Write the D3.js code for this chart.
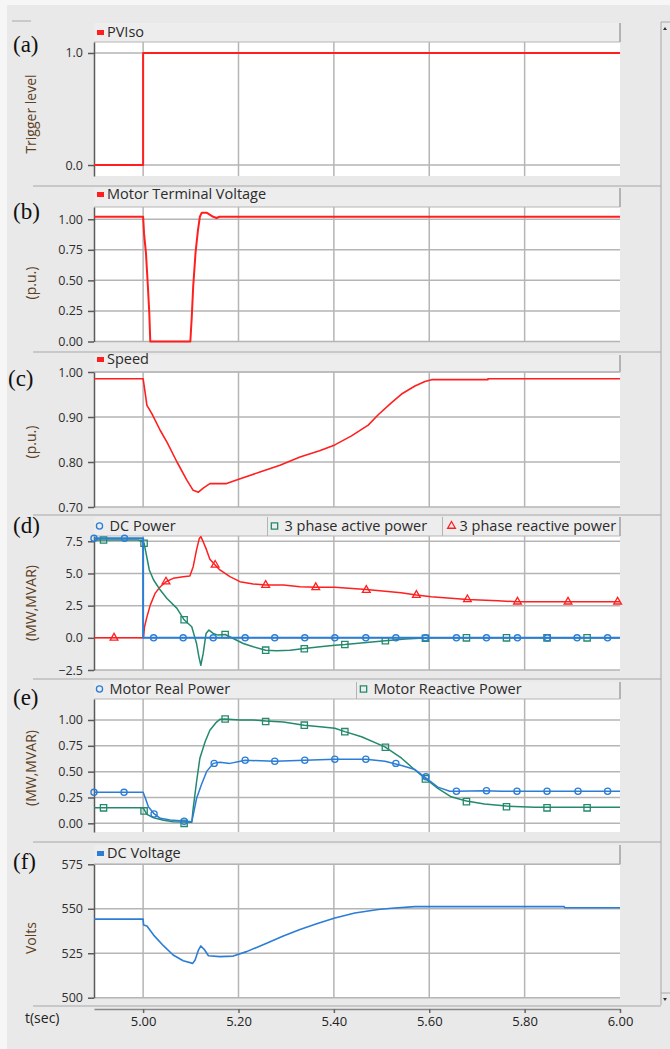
<!DOCTYPE html>
<html>
<head>
<meta charset="utf-8">
<script src="https://cdn.jsdelivr.net/npm/d3@7"></script>
<style>
    * { margin: 0; padding: 0; }
    body { background: #e9e9e9; width: 670px; height: 1049px; overflow: hidden; }
    svg { display: block; }
    text { font-family: "Open Sans", "Noto Sans", sans-serif; }
</style>
</head>
<body>
<svg id="chart" width="670" height="1049"></svg>
<script>
// ---- data (time in s) ----
var xTicks = [5.0, 5.2, 5.4, 5.6, 5.8, 6.0];

var pvIso = [[4.897, 0], [5.0, 0], [5.0, 1], [6.0, 1]];

var termVolt = [[4.897, 1.02], [5.0, 1.02], [5.002, 0.88], [5.006, 0.72], [5.010, 0.45], [5.013, 0.23],
    [5.015, 0.0], [5.099, 0.0], [5.102, 0.20], [5.105, 0.45], [5.110, 0.73], [5.115, 0.91], [5.119, 1.02],
    [5.123, 1.054], [5.133, 1.054], [5.147, 1.02], [5.154, 1.01], [5.16, 1.02], [6.0, 1.02]];

var speed = [[4.897, 0.985], [5.0, 0.985], [5.003, 0.963], [5.008, 0.926], [5.018, 0.908], [5.036, 0.870],
    [5.05, 0.844], [5.071, 0.80], [5.092, 0.759], [5.105, 0.737], [5.116, 0.733], [5.126, 0.742], [5.14, 0.752],
    [5.175, 0.752], [5.199, 0.761], [5.245, 0.778], [5.287, 0.793], [5.329, 0.811], [5.37, 0.825],
    [5.402, 0.838], [5.437, 0.858], [5.472, 0.882], [5.493, 0.905], [5.521, 0.932], [5.542, 0.951],
    [5.570, 0.969], [5.591, 0.979], [5.605, 0.983], [5.723, 0.983], [5.723, 0.985], [6.0, 0.985]];

var dcPower = [[4.897, 7.73], [5.0, 7.73], [5.0, 0], [6.0, 0]];
var dcPowerMarks = [[4.897, 7.73], [4.961, 7.73], [5.022, 0], [5.084, 0], [5.147, 0], [5.214, 0], [5.276, 0],
    [5.339, 0], [5.402, 0], [5.467, 0], [5.530, 0], [5.592, 0], [5.657, 0], [5.720, 0], [5.785, 0],
    [5.848, 0], [5.910, 0], [5.974, 0]];

var activePower = [[4.897, 7.6], [4.99, 7.6], [5.0, 7.45], [5.002, 7.35], [5.005, 6.8], [5.013, 5.27],
    [5.022, 4.49], [5.036, 3.71], [5.05, 3.06], [5.071, 2.29], [5.086, 1.4], [5.102, 0.86], [5.112, -0.44],
    [5.117, -1.48], [5.121, -2.13], [5.126, -1.21], [5.132, 0.34], [5.138, 0.6], [5.147, 0.34], [5.157, 0.21],
    [5.172, 0.26], [5.189, -0.05], [5.21, -0.44], [5.231, -0.70], [5.257, -0.96], [5.28, -1.01],
    [5.308, -0.96], [5.338, -0.83], [5.371, -0.70], [5.402, -0.57], [5.423, -0.52], [5.508, -0.23],
    [5.55, -0.1], [5.60, 0], [6.0, 0]];
var activePowerMarks = [[4.917, 7.6], [5.002, 7.35], [5.086, 1.4], [5.172, 0.26], [5.257, -0.96],
    [5.338, -0.85], [5.423, -0.52], [5.508, -0.23], [5.592, -0.03], [5.678, 0], [5.762, 0], [5.847, 0], [5.931, 0]];

var reactivePower = [[4.897, 0], [5.0, 0], [5.001, 0.08], [5.003, 0.86], [5.008, 1.63], [5.015, 2.54],
    [5.025, 3.45], [5.036, 3.97], [5.048, 4.36], [5.063, 4.62], [5.084, 4.75], [5.098, 4.80], [5.105, 5.53],
    [5.112, 6.83], [5.118, 7.74], [5.121, 7.86], [5.126, 7.47], [5.133, 6.83], [5.14, 6.10], [5.151, 5.66],
    [5.161, 5.27], [5.182, 4.75], [5.203, 4.36], [5.231, 4.18], [5.257, 4.10], [5.294, 4.10], [5.329, 3.97],
    [5.362, 3.92], [5.402, 3.92], [5.468, 3.76], [5.541, 3.50], [5.573, 3.32], [5.604, 3.19], [5.680, 2.98],
    [5.744, 2.88], [5.785, 2.80], [6.0, 2.80]];
var reactivePowerMarks = [[4.939, 0], [5.048, 4.36], [5.151, 5.66], [5.257, 4.10], [5.362, 3.92],
    [5.468, 3.71], [5.573, 3.32], [5.680, 2.98], [5.785, 2.80], [5.891, 2.80], [5.995, 2.80]];

var motorP = [[4.897, 0.30], [5.0, 0.30], [5.005, 0.24], [5.011, 0.16], [5.022, 0.097], [5.036, 0.048],
    [5.057, 0.032], [5.084, 0.022], [5.102, 0.016], [5.105, 0.08], [5.112, 0.24], [5.122, 0.37], [5.133, 0.50],
    [5.147, 0.58], [5.161, 0.59], [5.182, 0.58], [5.214, 0.61], [5.276, 0.60], [5.339, 0.61], [5.402, 0.62],
    [5.467, 0.62], [5.507, 0.60], [5.542, 0.56], [5.57, 0.52], [5.59, 0.45], [5.618, 0.35], [5.643, 0.31],
    [5.657, 0.31], [5.716, 0.315], [5.751, 0.31], [6.0, 0.31]];
var motorPMarks = [[4.897, 0.30], [4.960, 0.30], [5.023, 0.09], [5.086, 0.02], [5.149, 0.58], [5.214, 0.61],
    [5.276, 0.60], [5.339, 0.61], [5.402, 0.62], [5.467, 0.62], [5.530, 0.58], [5.593, 0.45], [5.657, 0.31],
    [5.720, 0.315], [5.784, 0.31], [5.847, 0.31], [5.912, 0.31], [5.974, 0.31]];

var motorQ = [[4.897, 0.151], [5.0, 0.15], [5.008, 0.087], [5.022, 0.054], [5.043, 0.029], [5.063, 0.016],
    [5.102, 0.01], [5.105, 0.145], [5.112, 0.40], [5.119, 0.63], [5.13, 0.79], [5.14, 0.90], [5.154, 0.98],
    [5.161, 1.006], [5.172, 1.01], [5.203, 1.00], [5.231, 1.00], [5.257, 0.99], [5.294, 0.98], [5.338, 0.95],
    [5.371, 0.935], [5.402, 0.92], [5.423, 0.887], [5.458, 0.838], [5.507, 0.74], [5.542, 0.63], [5.57, 0.516],
    [5.591, 0.436], [5.618, 0.339], [5.646, 0.257], [5.678, 0.216], [5.716, 0.187], [5.762, 0.167],
    [5.821, 0.155], [6.0, 0.155]];
var motorQMarks = [[4.917, 0.15], [5.002, 0.12], [5.086, 0.0], [5.172, 1.01], [5.257, 0.985], [5.338, 0.95],
    [5.423, 0.887], [5.508, 0.736], [5.592, 0.43], [5.678, 0.21], [5.762, 0.16], [5.847, 0.15], [5.931, 0.15]];

var dcVolt = [[4.897, 544.2], [5.0, 544.2], [5.001, 540.9], [5.008, 540.3], [5.022, 535.2], [5.043, 529.1],
    [5.063, 524.0], [5.084, 520.8], [5.104, 519.3], [5.109, 521.2], [5.116, 526.8], [5.121, 529.1],
    [5.128, 527.2], [5.137, 523.6], [5.161, 523.1], [5.189, 523.4], [5.217, 525.9], [5.259, 530.6],
    [5.294, 534.7], [5.329, 538.4], [5.364, 541.6], [5.402, 544.8], [5.444, 547.6], [5.493, 549.6],
    [5.521, 550.3], [5.570, 551.2], [5.883, 551.2], [5.884, 550.6], [6.0, 550.6]];

// ---- styling ----
var red = "#ff1f1f", blue = "#2b7dd6", green = "#24896d";
var gridColor = "#b5b5b5", axisColor = "#5a5a5a", titleColor = "#5e3f22", tickColor = "#2e2e2e";
var xLeft = 94, xRight = 620;

var panels = [
    { label: "(a)", labelX: 13, labelY: 52, sepY: null, legendTop: 23, legendY: 37, top: 42, bottom: 176,
      domain: [-0.098, 1.098], ticks: [0, 1], fmt: ".1f", title: "Trigger level", titleY: 114,
      legend: [{ name: "PVIso", sym: "bar", color: red, x0: 94, x1: 620 }],
      series: [{ data: pvIso, color: red, w: 2 }] },
    { label: "(b)", labelX: 13, labelY: 219, sepY: 186, legendTop: 188, legendY: 199, top: 207, bottom: 341.5,
      domain: [0, 1.1], ticks: [0, 0.25, 0.5, 0.75, 1], fmt: ".2f", title: "(p.u.)", titleY: 283,
      legend: [{ name: "Motor Terminal Voltage", sym: "bar", color: red, x0: 94, x1: 620 }],
      series: [{ data: termVolt, color: red, w: 2 }] },
    { label: "(c)", labelX: 8, labelY: 386, sepY: 352, legendTop: 355, legendY: 364, top: 372, bottom: 507,
      domain: [0.7, 1.0], ticks: [0.7, 0.8, 0.9, 1.0], fmt: ".2f", title: "(p.u.)", titleY: 442,
      legend: [{ name: "Speed", sym: "bar", color: red, x0: 94, x1: 620 }],
      series: [{ data: speed, color: red, w: 1.6 }] },
    { label: "(d)", labelX: 13, labelY: 533, sepY: 515, legendTop: 517, legendY: 531, top: 536, bottom: 670,
      domain: [-2.5, 7.91], ticks: [-2.5, 0, 2.5, 5, 7.5], fmt: ".1f", title: "(MW,MVAR)", titleY: 603,
      legend: [{ name: "DC Power", sym: "circle", color: blue, x0: 94, x1: 268 },
               { name: "3 phase active power", sym: "square", color: green, x0: 268, x1: 443 },
               { name: "3 phase reactive power", sym: "triangle", color: red, x0: 443, x1: 620 }],
      series: [{ data: reactivePower, marks: reactivePowerMarks, sym: "triangle", color: red, w: 1.5 },
               { data: activePower, marks: activePowerMarks, sym: "square", color: green, w: 1.5 },
               { data: dcPower, marks: dcPowerMarks, sym: "circle", color: blue, w: 2 }] },
    { label: "(e)", labelX: 13, labelY: 705, sepY: 679, legendTop: 682, legendY: 694, top: 699, bottom: 832,
      domain: [-0.084, 1.203], ticks: [0, 0.25, 0.5, 0.75, 1], fmt: ".2f", title: "(MW,MVAR)", titleY: 768,
      legend: [{ name: "Motor Real Power", sym: "circle", color: blue, x0: 94, x1: 357 },
               { name: "Motor Reactive Power", sym: "square", color: green, x0: 357, x1: 620 }],
      series: [{ data: motorQ, marks: motorQMarks, sym: "square", color: green, w: 1.5 },
               { data: motorP, marks: motorPMarks, sym: "circle", color: blue, w: 1.5 }] },
    { label: "(f)", labelX: 13, labelY: 869, sepY: 842, legendTop: 845, legendY: 858, top: 864.3, bottom: 997.7,
      domain: [500, 575], ticks: [500, 525, 550, 575], fmt: "d", title: "Volts", titleY: 938,
      legend: [{ name: "DC Voltage", sym: "bar", color: blue, x0: 94, x1: 620 }],
      series: [{ data: dcVolt, color: blue, w: 1.6 }] }
];

var svg = d3.select("#chart");
var x = d3.scaleLinear().domain([4.897, 6.0]).range([xLeft, xRight]);

// frame bits
svg.append("rect").attr("x", 0).attr("y", 0).attr("width", 670).attr("height", 5).attr("fill", "#f6f6f6");
svg.append("rect").attr("x", 0).attr("y", 0).attr("width", 7).attr("height", 1049).attr("fill", "#f6f6f6");
svg.append("line").attr("x1", 12).attr("x2", 31).attr("y1", 21).attr("y2", 21).attr("stroke", "#aaa");
svg.append("line").attr("x1", 661).attr("x2", 661).attr("y1", 22).attr("y2", 1005).attr("stroke", "#a8a8a8");
svg.append("line").attr("x1", 661).attr("x2", 670).attr("y1", 22).attr("y2", 22).attr("stroke", "#a8a8a8");
svg.append("line").attr("x1", 661).attr("x2", 670).attr("y1", 993).attr("y2", 993).attr("stroke", "#a8a8a8");
svg.append("path").attr("d", "M663,30 L667,30 L665,27 Z").attr("fill", "#333");
svg.append("path").attr("d", "M663,998 L667,998 L665,1001 Z").attr("fill", "#333");

function symbolPath(type) {
    var t = type == "circle" ? d3.symbolCircle : type == "square" ? d3.symbolSquare : d3.symbolTriangle;
    var s = type == "circle" ? 30 : type == "square" ? 40 : 26;
    return d3.symbol().type(t).size(s)();
}

panels.forEach(function (p) {
    var y = d3.scaleLinear().domain(p.domain).range([p.bottom, p.top]);
    var g = svg.append("g");

    if (p.sepY != null) {
        g.append("line").attr("x1", 33).attr("x2", 661).attr("y1", p.sepY).attr("y2", p.sepY)
            .attr("stroke", "#a8a8a8").attr("stroke-width", 1.2);
    }

    // legend strip
    p.legend.forEach(function (l) {
        g.append("rect").attr("x", l.x0).attr("y", p.legendTop).attr("width", l.x1 - l.x0)
            .attr("height", p.top - p.legendTop).attr("fill", "#ededed");
        g.append("line").attr("x1", l.x1).attr("x2", l.x1).attr("y1", p.legendTop).attr("y2", p.top)
            .attr("stroke", "#a0a0a0").attr("stroke-width", 1.5);
        var tx;
        if (l.sym == "bar") {
            g.append("rect").attr("x", l.x0 + 3).attr("y", p.legendY - 7).attr("width", 7).attr("height", 5)
                .attr("fill", l.color);
            tx = l.x0 + 13;
        } else {
            var off = l.sym == "triangle" ? 8.5 : l.sym == "square" ? 6.5 : 5.5;
            g.append("path").attr("d", symbolPath(l.sym))
                .attr("transform", "translate(" + (l.x0 + off) + "," + (p.legendY - 5) + ")")
                .attr("fill", "none").attr("stroke", l.color).attr("stroke-width", 1.3);
            tx = l.x0 + off + (l.sym == "triangle" ? 8 : 10);
        }
        g.append("text").attr("x", tx).attr("y", p.legendY).text(l.name)
            .style("font-size", "14.5px").attr("fill", "#2b2b2b");
    });

    // plot area
    g.append("rect").attr("x", xLeft).attr("y", p.top).attr("width", xRight - xLeft)
        .attr("height", p.bottom - p.top).attr("fill", "#fff");
    g.append("line").attr("x1", xLeft).attr("x2", xRight).attr("y1", p.top).attr("y2", p.top)
        .attr("stroke", gridColor).attr("stroke-width", 1);

    // grid
    g.append("g").selectAll("line").data(p.ticks).enter().append("line")
        .attr("x1", xLeft).attr("x2", xRight)
        .attr("y1", function (d) { return y(d); }).attr("y2", function (d) { return y(d); })
        .attr("stroke", gridColor).attr("stroke-width", 1.5);
    g.append("g").selectAll("line").data(xTicks.slice(0, 5)).enter().append("line")
        .attr("x1", function (d) { return x(d); }).attr("x2", function (d) { return x(d); })
        .attr("y1", p.top).attr("y2", p.bottom)
        .attr("stroke", gridColor).attr("stroke-width", 1.5);

    // left axis
    var yAxis = g.append("g").attr("transform", "translate(" + xLeft + ",0)")
        .call(d3.axisLeft(y).tickValues(p.ticks).tickFormat(d3.format(p.fmt)).tickSize(6).tickSizeOuter(0).tickPadding(5));
    yAxis.select(".domain").attr("stroke", axisColor).attr("stroke-width", 1.5);
    yAxis.selectAll(".tick line").attr("stroke", axisColor).attr("stroke-width", 1.5);
    yAxis.selectAll(".tick text").style("font-size", "12.5px").style("font-family", "'Open Sans', sans-serif")
        .attr("fill", tickColor);

    // titles
    g.append("text").attr("transform", "translate(30.5," + p.titleY + ") rotate(-90)")
        .attr("text-anchor", "middle").attr("dominant-baseline", "central")
        .style("font-size", "14px").attr("fill", titleColor).text(p.title);
    g.append("text").attr("x", p.labelX).attr("y", p.labelY).text(p.label)
        .style("font-family", "'Liberation Serif', 'Times New Roman', serif").style("font-size", "23px")
        .attr("fill", "#111");

    // series
    var line = d3.line().x(function (d) { return x(d[0]); }).y(function (d) { return y(d[1]); });
    p.series.forEach(function (s) {
        g.append("path").datum(s.data).attr("d", line).attr("fill", "none")
            .attr("stroke", s.color).attr("stroke-width", s.w).attr("stroke-linejoin", "round");
        if (s.marks) {
            g.append("g").selectAll("path").data(s.marks).enter().append("path")
                .attr("d", symbolPath(s.sym))
                .attr("transform", function (d) { return "translate(" + x(d[0]) + "," + y(d[1]) + ")"; })
                .attr("fill", "none").attr("stroke", s.color).attr("stroke-width", 1.3);
        }
    });
});

// bottom time axis
svg.append("line").attr("x1", 33).attr("x2", 661).attr("y1", 1006).attr("y2", 1006)
    .attr("stroke", "#a8a8a8").attr("stroke-width", 1.2);
var xAxis = svg.append("g").attr("transform", "translate(0,1009)")
    .call(d3.axisBottom(x).tickValues(xTicks).tickFormat(d3.format(".2f")).tickSize(4).tickSizeOuter(0).tickPadding(4));
xAxis.select(".domain").attr("stroke", "#8a8a8a").attr("stroke-width", 1.5);
xAxis.selectAll(".tick line").attr("stroke", "#666").attr("stroke-width", 1.5);
xAxis.selectAll(".tick text").style("font-size", "13px").style("font-family", "'Open Sans', sans-serif")
    .attr("fill", "#222");
svg.append("text").attr("x", 25).attr("y", 1023).text("t(sec)").style("font-size", "14px").attr("fill", "#222");
</script>
</body>
</html>
